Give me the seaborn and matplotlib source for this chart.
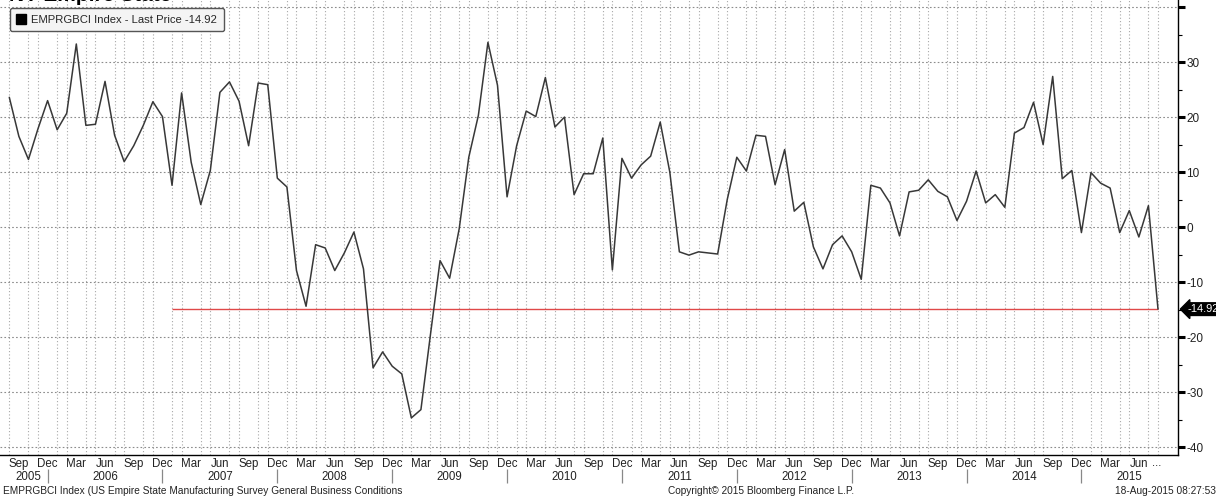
import numpy as np
import pandas as pd
import matplotlib
matplotlib.use("Agg")
import matplotlib.pyplot as plt
import matplotlib.transforms as mtrans
from matplotlib.lines import Line2D
import seaborn as sns

# ---------------- data ----------------
start_month = "2005-08"
values_2005 = [23.6, 16.5, 12.3, 17.9, 23.0]
values_2006 = [17.7, 20.7, 33.3, 18.5, 18.7, 26.5, 16.7, 11.9, 14.8, 18.5, 22.8, 20.1]
values_2007 = [7.6, 24.4, 11.8, 4.1, 10.3, 24.5, 26.4, 22.9, 14.8, 26.2, 25.9, 8.9]
values_2008 = [7.3, -7.9, -14.4, -3.2, -3.8, -7.9, -4.7, -0.9, -7.6, -25.6, -22.7, -25.3]
values_2009 = [-26.7, -34.7, -33.2, -19.5, -6.1, -9.3, -0.3, 12.7, 20.3, 33.6, 25.8, 5.5]
values_2010 = [14.8, 21.1, 20.1, 27.2, 18.2, 20.0, 5.9, 9.7, 9.7, 16.2, -7.8, 12.5]
values_2011 = [8.9, 11.3, 12.9, 19.1, 10.0, -4.5, -5.1, -4.5, -4.7, -4.9, 5.0, 12.7]
values_2012 = [10.2, 16.7, 16.5, 7.7, 14.1, 2.9, 4.5, -3.6, -7.6, -3.2, -1.6, -4.5]
values_2013 = [-9.5, 7.6, 7.1, 4.4, -1.6, 6.4, 6.7, 8.6, 6.5, 5.5, 1.2, 4.7]
values_2014 = [10.2, 4.4, 5.9, 3.6, 17.1, 18.1, 22.7, 15.0, 27.4, 8.8, 10.3, -1.0]
values_2015 = [9.9, 8.0, 7.1, -1.0, 3.0, -1.8, 3.9, -14.92]
last_price = -14.92
ref_line_start = "2007-01"
year_labels = ["2005", "2006", "2007", "2008", "2009", "2010",
               "2011", "2012", "2013", "2014", "2015"]
month_tick_names = ["Mar", "Jun", "Sep", "Dec"]
y_ticks = [-40, -30, -20, -10, 0, 10, 20, 30, 40]
y_tick_labels = ["-40", "-30", "-20", "-10", "0", "10", "20", "30", ""]
title = "NY Empire State"
legend_label = "EMPRGBCI Index - Last Price -14.92"
footer_left = "EMPRGBCI Index (US Empire State Manufacturing Survey General Business Conditions"
footer_mid = "Copyright\u00a9 2015 Bloomberg Finance L.P."
footer_right = "18-Aug-2015 08:27:53"

values = (values_2005 + values_2006 + values_2007 + values_2008 + values_2009 +
          values_2010 + values_2011 + values_2012 + values_2013 + values_2014 +
          values_2015)
periods = pd.period_range(start_month, periods=len(values), freq="M")
df = pd.DataFrame({"idx": np.arange(len(values)), "value": values,
                   "period": periods})

# ---------------- figure ----------------
sns.set_theme(style="white")
plt.rcParams["font.family"] = ["Liberation Sans", "DejaVu Sans"]

W, H = 1216, 498
fig = plt.figure(figsize=(W / 100, H / 100), dpi=100)
ax_left, ax_right, ax_bottom, ax_top = 0, 1178, 455, 0
ax = fig.add_axes([ax_left / W, 1 - ax_bottom / H,
                   (ax_right - ax_left) / W, (ax_bottom - ax_top) / H])
ax.set_facecolor("white")

n = len(values)
x_per_px = 1 / 9.57
ax.set_xlim(-9.3 * x_per_px, n - 1 + (1178 - 1158) * x_per_px)
ax.set_ylim(-41.45, 41.3)

# grids
ax.set_xticks(df["idx"], minor=True)
ax.grid(which="minor", axis="x", color="#a8a8a8", lw=0.8, ls=(0, (1, 2)))
ax.set_yticks(y_ticks)
ax.set_yticks(np.arange(-35, 40, 10), minor=True)
ax.grid(which="major", axis="y", color="#8c8c8c", lw=0.8, ls=(0, (1.5, 2)))
ax.set_axisbelow(True)

# line
sns.lineplot(data=df, x="idx", y="value", ax=ax, color="#383838", lw=1.1,
             legend=False, zorder=3)

# reference line at last price
ref_idx = int(df.index[df["period"] == pd.Period(ref_line_start, "M")][0])
ax.hlines(last_price, ref_idx, n - 1, color="#e04848", lw=1.0, zorder=2)

# spines
for s in ["left", "top"]:
    ax.spines[s].set_visible(False)
for s in ["right", "bottom"]:
    ax.spines[s].set_color("black")
    ax.spines[s].set_linewidth(1.0)

# y axis on right
ax.yaxis.tick_right()
ax.set_yticklabels(y_tick_labels)
ax.tick_params(axis="y", which="major", direction="out", length=5, width=2.2,
               color="black", labelsize=8.5, pad=1, labelcolor="#222222")
ax.tick_params(axis="y", which="minor", direction="out", length=3, width=0.8,
               color="black")
ax.set_ylabel("")

# x axis: quarter month labels
major_idx = [i for i, p in enumerate(periods) if p.strftime("%b") in month_tick_names]
ax.set_xticks(major_idx)
ax.set_xticklabels([periods[i].strftime("%b") for i in major_idx])
ax.tick_params(axis="x", which="major", direction="in", length=5, width=0.8,
               color="#555555", labelsize=8.3, pad=2, labelcolor="#222222")
ax.tick_params(axis="x", which="minor", direction="in", length=3, width=0.6,
               color="#777777")
ax.set_xlabel("")
bt = mtrans.blended_transform_factory(ax.transData, fig.transFigure)
fig.text(major_idx[-1] + 1.4, 1 - 463 / H, "...", transform=bt, ha="left",
         va="center", fontsize=8.3, color="#222222")

# year labels + separators
dec_idx = [i for i, p in enumerate(periods) if p.month == 12]
bounds = [0] + dec_idx + [n + 1]
for k, yl in enumerate(year_labels):
    cx = (bounds[k] + bounds[k + 1]) / 2
    fig.text(cx, 1 - 477 / H, yl, transform=bt, ha="center", va="center",
             fontsize=8.3, color="#222222")
ax.vlines(dec_idx, 1 - 483 / H, 1 - 469 / H, transform=bt, color="#888888",
          lw=0.9, clip_on=False)

# last price tag
ax.annotate(f"{last_price:.2f}", xy=(1, last_price),
            xycoords=("axes fraction", "data"), xytext=(6.5, 0),
            textcoords="offset points", ha="left", va="center", fontsize=8,
            color="white", annotation_clip=False,
            bbox=dict(boxstyle="larrow,pad=0.12", fc="black", ec="black"))

# legend
handle = Line2D([], [], marker="s", color="black", ls="", markersize=7.5)
leg = ax.legend([handle], [legend_label], loc="upper left",
                bbox_to_anchor=(10 / W, 1 - 8 / H), bbox_transform=fig.transFigure,
                frameon=True, fancybox=True, fontsize=8.1, handlelength=0.8,
                handletextpad=0.5, borderpad=0.6, borderaxespad=0)
leg.get_frame().set_edgecolor("#555555")
leg.get_frame().set_facecolor("#f4f4f4")
leg.get_frame().set_linewidth(1.0)
leg.get_frame().set_alpha(1)

# title (mostly cut off at the top edge, as in the source)
fig.text(9 / W, 1 - 1 / H, title, ha="left", va="baseline", fontsize=15,
         fontweight="bold", color="black")

# footer
fy = 1 - 491 / H
fig.text(3 / W, fy, footer_left, ha="left", va="center", fontsize=7.3, color="#222222")
fig.text(668 / W, fy, footer_mid, ha="left", va="center", fontsize=7.3, color="#222222")
fig.text(1 - 0 / W, fy, footer_right, ha="right", va="center", fontsize=7.3,
         color="#222222")

fig.savefig("out.png", dpi=100)
